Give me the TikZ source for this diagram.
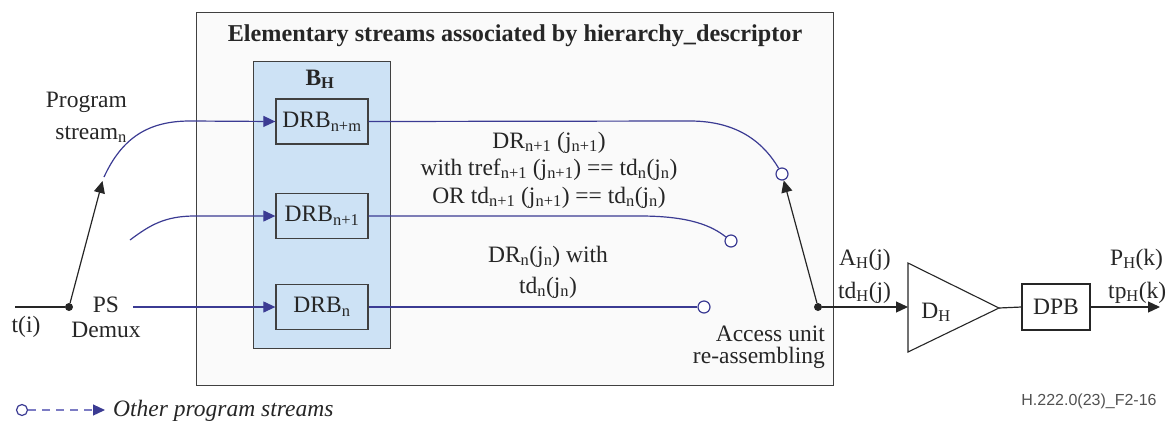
\documentclass[tikz,border=0pt]{standalone}
\usepackage{fontspec}
\setmainfont{Liberation Serif}
\newfontfamily\srcfont{Liberation Sans}
\usetikzlibrary{arrows.meta}
\definecolor{navy}{HTML}{3B3B93}
\definecolor{lnavy}{HTML}{7C7CC4}
\definecolor{bfill}{HTML}{CDE2F5}
\definecolor{ofill}{HTML}{FAFAFA}
\definecolor{txt}{HTML}{262626}
\definecolor{edge}{HTML}{404040}
\begin{document}
\begin{tikzpicture}[x=1pt,y=-1pt,
  font=\fontsize{23.5}{28}\selectfont, text=txt,
  lbl/.style={inner sep=0pt, anchor=base},
  lblw/.style={inner sep=0pt, anchor=base west},
  lble/.style={inner sep=0pt, anchor=base east},
  drbox/.style={draw=edge, line width=1.3pt, inner sep=0pt, minimum width=92, minimum height=45},
  bline/.style={draw=navy, line width=1.2pt},
  kline/.style={draw=txt, line width=1.2pt},
  arr/.style={-{Triangle[length=12pt,width=11pt]}},
  ocirc/.style={circle, draw=navy, line width=1.2pt, fill=white, inner sep=0pt, minimum size=12},
  kdot/.style={circle, fill=txt, inner sep=0pt, minimum size=8}]
\useasboundingbox (0,0) rectangle (1174,421);
% outer box
\node[draw=edge, line width=1.3pt, fill=ofill, minimum width=637, minimum height=373, anchor=north west, inner sep=0pt] (outer) at (196,12) {};
\node[lbl, font=\fontsize{24.2}{28}\selectfont\bfseries] (title) at (515,41) {Elementary streams associated by hierarchy\_descriptor};
% blue buffer box
\node[draw=edge, line width=1.3pt, fill=bfill, minimum width=137, minimum height=287, anchor=north west, inner sep=0pt] (bh) at (253,61) {};
\node[lbl, font=\fontsize{23.5}{28}\selectfont\bfseries] (bhl) at (320,85) {B\textsubscript{H}};
\node[drbox] (drbnm) at (322,121.5) {DRB\textsubscript{n+m}};
\node[drbox] (drbn1) at (322,216) {DRB\textsubscript{n+1}};
\node[drbox] (drbn) at (322,307) {DRB\textsubscript{n}};
% input side
\coordinate (tin) at (15,307);
\node[kdot] (psdot) at (69,307) {};
\coordinate (psa) at (102.5,181);
\coordinate (s1) at (104,177);
\coordinate (s2) at (130,240);
\coordinate (s3) at (133,307);
\draw[kline] (tin) -- (psdot);
\draw[kline, arr] (psdot) -- (psa);
\node[lble] (prog1) at (127,107) {Program};
\node[lble] (prog2) at (127,139) {stream\textsubscript{n}};
\node[lbl] (ti) at (26,332) {t(i)};
\node[lbl] (ps1) at (106,312) {PS};
\node[lbl] (ps2) at (106,337) {Demux};
\draw[bline, arr] (s1) .. controls (122,138) and (148,121) .. (190,121) -- (drbnm.west);
\draw[bline, arr] (s2) .. controls (150,225) and (165,216) .. (195,216) -- (drbn1.west);
\draw[bline, arr] (s3) -- (drbn.west);
% outputs
\node[ocirc] (c1) at (782,174) {};
\node[ocirc] (c2) at (731,241) {};
\node[ocirc] (c3) at (704,307) {};
\draw[bline] (drbnm.east) -- (690,121) .. controls (740,121) and (765,145) .. (c1);
\draw[bline] (drbn1.east) -- (640,216) .. controls (690,216) and (712,226) .. (c2);
\draw[bline] (drbn.east) -- (c3);
\node[lbl] (t1) at (549,148) {DR\textsubscript{n+1} (j\textsubscript{n+1})};
\node[lbl] (t2) at (549,175) {with tref\textsubscript{n+1} (j\textsubscript{n+1}) == td\textsubscript{n}(j\textsubscript{n})};
\node[lbl] (t3) at (549,203) {OR td\textsubscript{n+1} (j\textsubscript{n+1}) == td\textsubscript{n}(j\textsubscript{n})};
\node[lbl] (t4) at (548,262) {DR\textsubscript{n}(j\textsubscript{n}) with};
\node[lbl] (t5) at (548,293) {td\textsubscript{n}(j\textsubscript{n})};
% access unit reassembly
\node[kdot] (audot) at (818,307) {};
\draw[kline, arr] (audot) -- (c1);
\node[lble] (au1) at (825,341) {Access unit};
\node[lble] (au2) at (825,363) {re-assembling};
% decoder
\coordinate (trt) at (908,263);
\coordinate (trb) at (908,352);
\coordinate (trp) at (999,308);
\coordinate (trin) at (908,307);
\draw[kline, line width=1.1pt, fill=white] (trt) -- (trp) -- (trb) -- cycle;
\node[lbl] (dh) at (936,318) {D\textsubscript{H}};
\draw[kline, arr] (audot) -- (trin);
\node[lblw] (ah) at (839,265) {A\textsubscript{H}(j)};
\node[lblw] (tdh) at (838,298) {td\textsubscript{H}(j)};
\node[draw=txt, line width=1.1pt, fill=white, minimum width=68, minimum height=46, inner sep=0pt] (dpb) at (1056,307) {DPB};
\coordinate (outp) at (1160,307);
\draw[kline] (trp) -- (dpb.west);
\draw[kline, arr] (dpb.east) -- (outp);
\node[lblw] (ph) at (1110,265) {P\textsubscript{H}(k)};
\node[lblw] (tph) at (1108,298) {tp\textsubscript{H}(k)};
% legend
\node[ocirc, minimum size=11] (lc) at (22,410) {};
\coordinate (la) at (105,410);
\draw[draw=lnavy, line width=1.2pt, dash pattern=on 8pt off 6pt, -{Triangle[length=12pt,width=11pt,color=navy]}] (lc) -- (la);
\node[lblw, font=\fontsize{23.5}{28}\selectfont\itshape] (leg) at (113,416) {Other program streams};
\node[lbl, font=\srcfont\fontsize{16}{16}\selectfont, text=txt!80] (src) at (1089,405) {H.222.0(23)\_F2-16};
\end{tikzpicture}
\end{document}
